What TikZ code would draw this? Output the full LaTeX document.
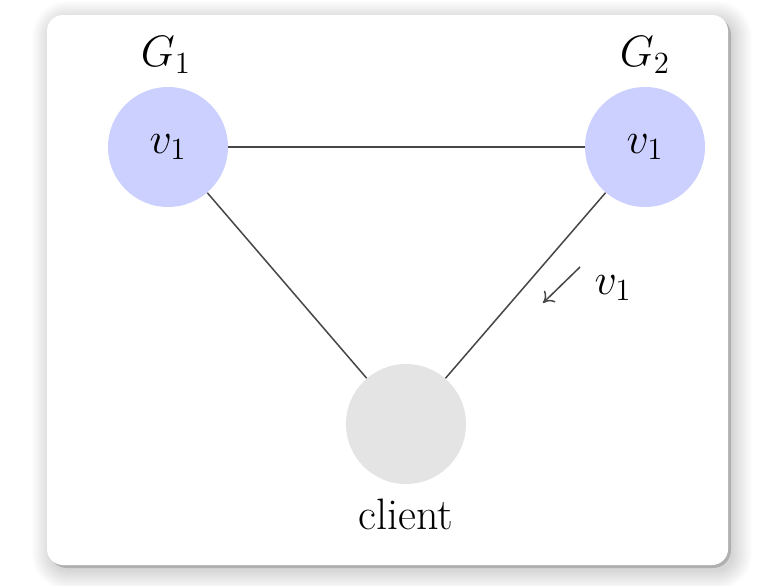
\RequirePackage{fix-cm}
\documentclass[tikz,border=0pt]{standalone}
\usepackage{fontspec}
\usetikzlibrary{arrows.meta}
\definecolor{nodeblue}{RGB}{204,208,255}
\definecolor{clientgray}{RGB}{228,228,228}
\definecolor{edgegray}{RGB}{70,70,70}
\tikzset{
  replica/.style={circle,fill=nodeblue,minimum size=60pt,inner sep=0pt},
  client/.style={circle,fill=clientgray,minimum size=60pt,inner sep=0pt},
  link/.style={draw=edgegray,line width=0.75pt},
}
\begin{document}
\begin{tikzpicture}[x=0.5pt,y=-0.5pt,font=\fontsize{22}{26}\selectfont]
  \useasboundingbox[fill=white] (0,0) rectangle (781,585);
  % card with soft shadow
  \foreach \s in {1,...,20}
    \fill[black,opacity=0.007,rounded corners=8pt+0.5*\s pt] (47-\s+5,15-\s+6) rectangle (728+\s+4,565+\s+5);
  \fill[black,opacity=0.18,rounded corners=9pt] (49,17) rectangle (731,568);
  \fill[white,rounded corners=8pt] (47,15) rectangle (728,565);
  \node[replica] (g1) at (168,147) {$v_1$};
  \node[replica] (g2) at (645,147) {$v_1$};
  \node[client] (c) at (406,424) {};
  \node (g1name) at (166,55) {$G_1$};
  \node (g2name) at (645,55) {$G_2$};
  \node (cname) at (406,514) {client};
  \draw[link] (g1) -- (g2);
  \draw[link] (g1) -- (c);
  \draw[link] (g2) -- (c);
  \coordinate (wfrom) at (580,267);
  \coordinate (wto) at (543,303);
  \draw[link,-{To[length=5pt,width=8pt]}] (wfrom) -- (wto);
  \node (wname) at (613,288) {$v_1$};
\end{tikzpicture}
\end{document}
